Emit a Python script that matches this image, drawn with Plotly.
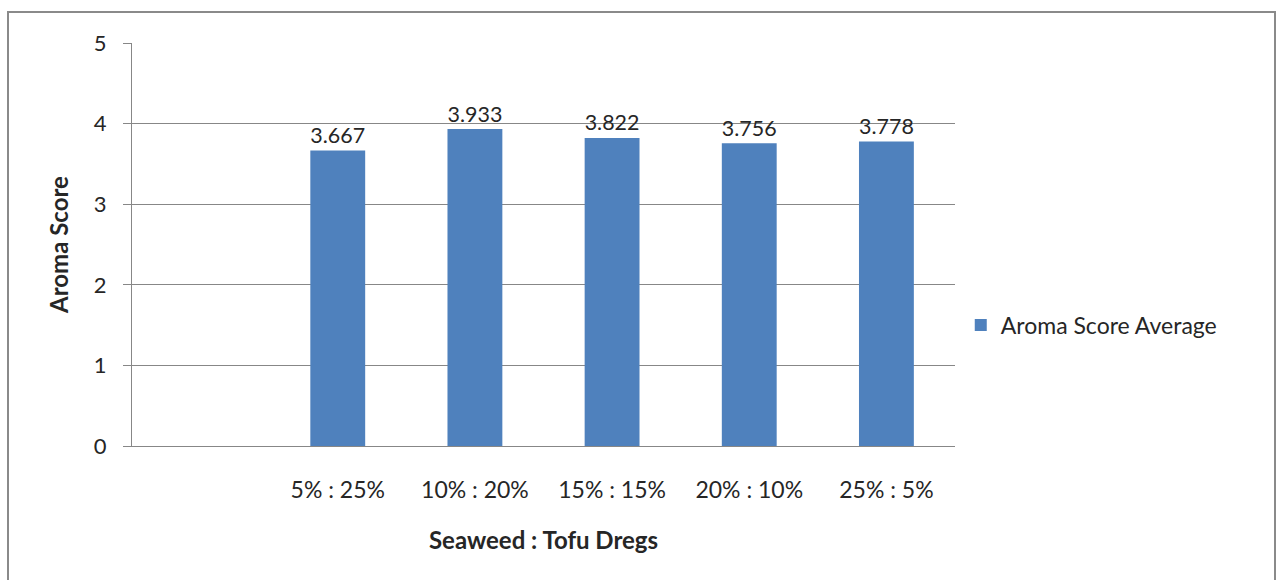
import plotly.graph_objects as go

# Seaweed : tofu dregs ratios and their average aroma scores
ratios = ["5% : 25%", "10% : 20%", "15% : 15%", "20% : 10%", "25% : 5%"]
aroma_avg = [3.667, 3.933, 3.822, 3.756, 3.778]
y_ticks = [0, 1, 2, 3, 4, 5]

# leading blank slot on the category axis
slots = [" "] + ratios

FONT = "Lato"
TEXT = "#262626"
GRID = "#878787"

fig = go.Figure()
fig.add_trace(go.Bar(
    x=ratios,
    y=aroma_avg,
    name="Aroma Score Average",
    marker=dict(color="#4F81BD", line=dict(width=0)),
    text=[f"{v:.3f}" for v in aroma_avg],
    textposition="outside",
    textfont=dict(family=FONT, size=24, color=TEXT),
    cliponaxis=False,
))

fig.update_layout(
    width=1282, height=580,
    margin=dict(l=132, r=327, t=43, b=134),
    paper_bgcolor="white", plot_bgcolor="white",
    bargap=0.6,
    showlegend=True,
    legend=dict(
        x=1.007, y=0.3, xanchor="left", yanchor="middle",
        font=dict(family=FONT, size=23, color=TEXT),
        itemwidth=30,
    ),
    xaxis=dict(
        type="category",
        categoryorder="array", categoryarray=slots,
        range=[-0.5, 5.5],
        showgrid=False, showline=True, linecolor=GRID, linewidth=1,
        ticks="", ticklabelstandoff=23,
        tickfont=dict(family=FONT, size=23, color=TEXT),
        title=dict(text="<b>Seaweed : Tofu Dregs</b>",
                   font=dict(family=FONT, size=24, color=TEXT), standoff=30),
    ),
    yaxis=dict(
        range=[0, 5], tickvals=y_ticks,
        showgrid=True, gridcolor=GRID, gridwidth=1,
        showline=True, linecolor=GRID, linewidth=1,
        ticks="outside", ticklen=8, tickcolor=GRID,
        ticklabelstandoff=12,
        tickfont=dict(family=FONT, size=22, color=TEXT),
        zeroline=False,
        title=dict(text="<b>Aroma Score</b>",
                   font=dict(family=FONT, size=24, color=TEXT), standoff=18),
    ),
    shapes=[dict(
        type="rect", xref="paper", yref="paper",
        x0=(8 - 132) / 823, x1=(1275 - 132) / 823,
        y0=(446 - 590) / 403, y1=(446 - 12) / 403,
        line=dict(color="#8a8a8a", width=2),
        fillcolor="rgba(0,0,0,0)", layer="below",
    )],
)

fig.write_html("out.html")
